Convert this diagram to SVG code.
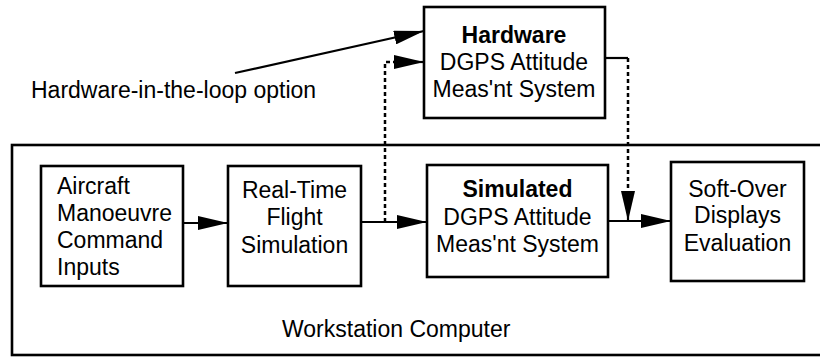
<svg xmlns="http://www.w3.org/2000/svg" width="820" height="357" viewBox="0 0 820 357">
<defs>
<marker id="ah" viewBox="0 0 30 14" refX="30" refY="7" markerWidth="30" markerHeight="14" markerUnits="userSpaceOnUse" orient="auto">
<path d="M0,0 L30,7 L0,14 z" fill="#000"/>
</marker>
<style>
.box{fill:#fff;stroke:#000;stroke-width:2.6}
.t{font-family:"Liberation Sans",Arial,sans-serif;font-size:23px;fill:#000}
.c{text-anchor:middle}
.b{font-weight:bold}
.ln{fill:none;stroke:#000;stroke-width:2.2}
.dot{fill:none;stroke:#000;stroke-width:2.5;stroke-dasharray:4 3}
</style>
</defs>
<rect width="820" height="357" fill="#fff"/>
<g id="workstation">
<rect x="12" y="145" width="815" height="210" fill="none" stroke="#000" stroke-width="2.6"/>
<text class="t" x="282" y="337">Workstation Computer</text>
</g>
<g id="label">
<text class="t" x="31" y="98">Hardware-in-the-loop option</text>
</g>
<g id="hardware">
<rect class="box" x="424" y="7" width="181" height="111"/>
<text class="t c b" x="514" y="43">Hardware</text>
<text class="t c" x="514" y="70">DGPS Attitude</text>
<text class="t c" x="514" y="97">Meas'nt System</text>
</g>
<g id="aircraft">
<rect class="box" x="41" y="166" width="142" height="120"/>
<text class="t" x="57" y="194">Aircraft</text>
<text class="t" x="57" y="221">Manoeuvre</text>
<text class="t" x="57" y="248">Command</text>
<text class="t" x="57" y="275">Inputs</text>
</g>
<g id="realtime">
<rect class="box" x="228" y="166" width="133" height="120"/>
<text class="t c" x="294.5" y="198">Real-Time</text>
<text class="t c" x="294.5" y="225">Flight</text>
<text class="t c" x="294.5" y="253">Simulation</text>
</g>
<g id="simulated">
<rect class="box" x="427" y="165" width="181" height="112"/>
<text class="t c b" x="517.5" y="197">Simulated</text>
<text class="t c" x="517.5" y="225">DGPS Attitude</text>
<text class="t c" x="517.5" y="252">Meas'nt System</text>
</g>
<g id="softover">
<rect class="box" x="671" y="162" width="133" height="119"/>
<text class="t c" x="737.5" y="197">Soft-Over</text>
<text class="t c" x="737.5" y="223">Displays</text>
<text class="t c" x="737.5" y="251">Evaluation</text>
</g>
<g id="connectors">
<path class="ln" d="M183,223 L228,223" marker-end="url(#ah)"/>
<path class="ln" d="M361,222 L427,222" marker-end="url(#ah)"/>
<path class="dot" d="M385,222 L385,62 L398,62"/>
<path class="ln" d="M396,62 L424,62" marker-end="url(#ah)"/>
<path class="ln" d="M605,58 L628,58"/>
<path class="dot" d="M628,58 L628,204"/>
<path class="ln" d="M628,200 L628,221" marker-end="url(#ah)"/>
<path class="ln" d="M608,221 L671,221" marker-end="url(#ah)"/>
<path class="ln" d="M235,73 L424,31" stroke-width="3.2" marker-end="url(#ah)"/>
</g>
</svg>
